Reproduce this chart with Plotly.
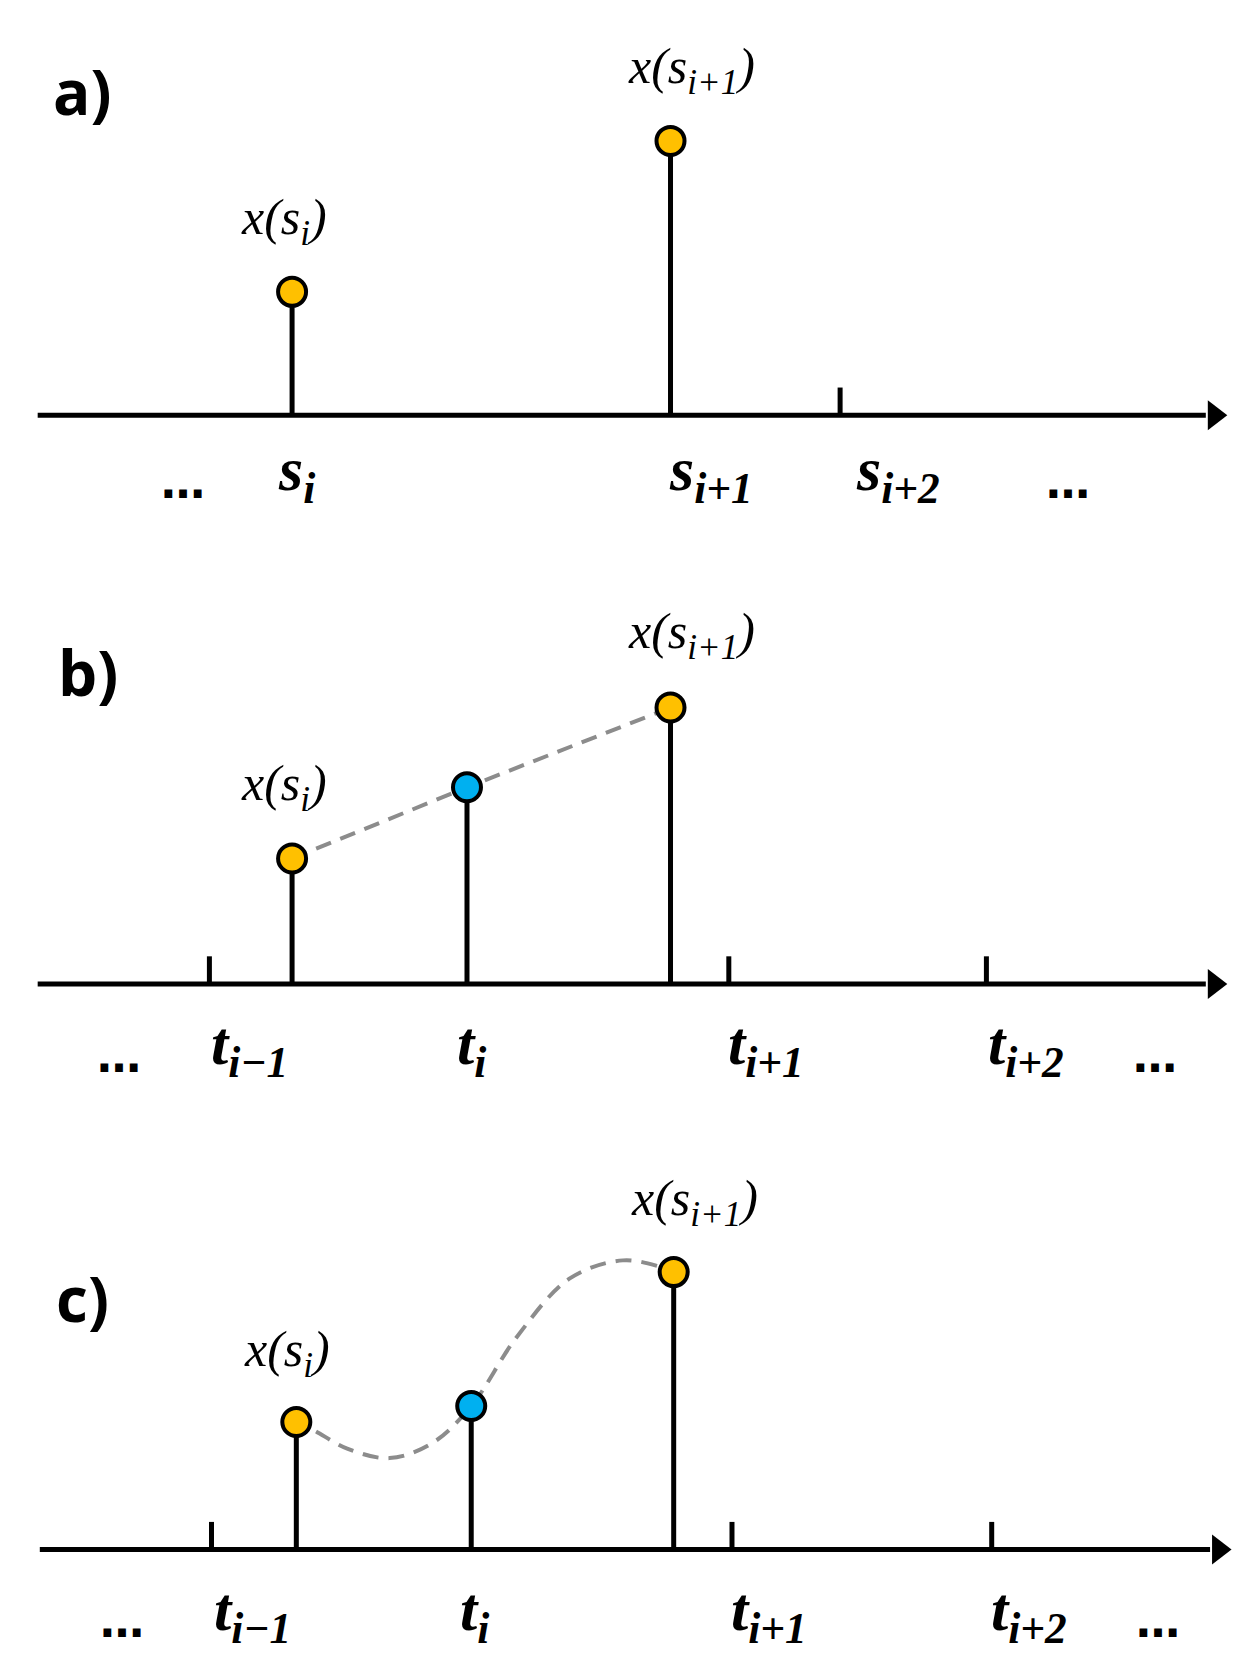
import plotly.graph_objects as go

# diagram units: x 0..1183, y 0..1568 (top down)
panel_names = ["a)", "b)", "c)"]
panel_name_pos = [(70, 78), (75, 625), (70, 1213)]
axis_y = [383, 918, 1450]
axis_x0 = [28, 28, 30]
axis_x1 = [1130, 1130, 1134]

stem_x = [[268, 625], [268, 433, 625], [272, 437, 628]]
stem_top = [[267, 125], [800, 733, 658], [1330, 1315, 1189]]
stem_color = [["#FFC000", "#FFC000"], ["#FFC000", "#00B0F0", "#FFC000"],
              ["#FFC000", "#00B0F0", "#FFC000"]]

tick_x = [[785], [190, 680, 923], [192, 683, 928]]

lab_a = ["…", "s<sub>i</sub>", "s<sub>i+1</sub>", "s<sub>i+2</sub>", "…"]
lab_a_x = [165, 272, 663, 840, 1000]
lab_bc = ["…", "t<sub>i−1</sub>", "t<sub>i</sub>", "t<sub>i+1</sub>", "t<sub>i+2</sub>", "…"]
lab_bc_x = [105, 228, 437, 715, 960, 1082]

val_lab = ["x(s<sub>i</sub>)", "x(s<sub>i+1</sub>)"]
val_lab_pos = [[(260, 200), (645, 58)], [(260, 733), (645, 590)], [(263, 1265), (648, 1123)]]

curve_x = [268, 285, 320, 360, 400, 437, 480, 530, 580, 615, 628]
curve_y = [1330, 1336, 1355, 1364, 1350, 1315, 1250, 1195, 1178, 1184, 1189]

fig = go.Figure()

for p in range(3):
    y0 = axis_y[p]
    fig.add_trace(go.Scatter(x=[axis_x0[p], axis_x1[p]], y=[y0, y0], mode="lines",
                             line=dict(color="black", width=5), hoverinfo="skip"))
    fig.add_trace(go.Scatter(x=[axis_x1[p] + 8], y=[y0], mode="markers",
                             marker=dict(symbol="triangle-right", size=26, color="black"),
                             hoverinfo="skip"))
    for tx in tick_x[p]:
        fig.add_trace(go.Scatter(x=[tx, tx], y=[y0 - 26, y0], mode="lines",
                                 line=dict(color="black", width=5), hoverinfo="skip"))
    if p == 1:
        fig.add_trace(go.Scatter(x=stem_x[p], y=stem_top[p], mode="lines",
                                 line=dict(color="#8C8C8C", width=4, dash="16px,10px"),
                                 hoverinfo="skip"))
    if p == 2:
        fig.add_trace(go.Scatter(x=curve_x, y=curve_y, mode="lines",
                                 line=dict(color="#8C8C8C", width=4, dash="16px,10px", shape="spline"),
                                 hoverinfo="skip"))
    for sx, st, c in zip(stem_x[p], stem_top[p], stem_color[p]):
        fig.add_trace(go.Scatter(x=[sx, sx], y=[y0, st], mode="lines",
                                 line=dict(color="black", width=5), hoverinfo="skip"))
        fig.add_trace(go.Scatter(x=[sx], y=[st], mode="markers",
                                 marker=dict(size=28, color=c, line=dict(color="black", width=4)),
                                 hoverinfo="skip"))
    labs, xs = (lab_a, lab_a_x) if p == 0 else (lab_bc, lab_bc_x)
    shift = 3 if p == 2 else 0
    dy = 55 if p == 0 else 60
    for t, lx in zip(labs, xs):
        if t == "…":
            fig.add_annotation(x=lx + shift, y=y0 + dy + 8, text="<b>…</b>", showarrow=False,
                               font=dict(family="DejaVu Sans", size=44, color="black"))
        else:
            fig.add_annotation(x=lx + shift, y=y0 + dy, text="<b><i>" + t + "</i></b>", showarrow=False,
                               font=dict(family="Liberation Serif", size=62, color="black"))
    for t, (vx, vy) in zip(val_lab, val_lab_pos[p]):
        fig.add_annotation(x=vx, y=vy, text="<i>" + t + "</i>", showarrow=False,
                           font=dict(family="Liberation Serif", size=50, color="black"))
    fig.add_annotation(x=panel_name_pos[p][0], y=panel_name_pos[p][1], text="<b>" + panel_names[p] + "</b>",
                       showarrow=False, font=dict(family="Open Sans", size=62, color="black"))

fig.update_layout(
    width=1254, height=1667, margin=dict(l=0, r=0, t=0, b=0),
    plot_bgcolor="white", paper_bgcolor="white", showlegend=False,
    xaxis=dict(range=[0, 1183], visible=False, fixedrange=True),
    yaxis=dict(range=[1568, 0], visible=False, fixedrange=True),
)

fig.write_html("out.html")
